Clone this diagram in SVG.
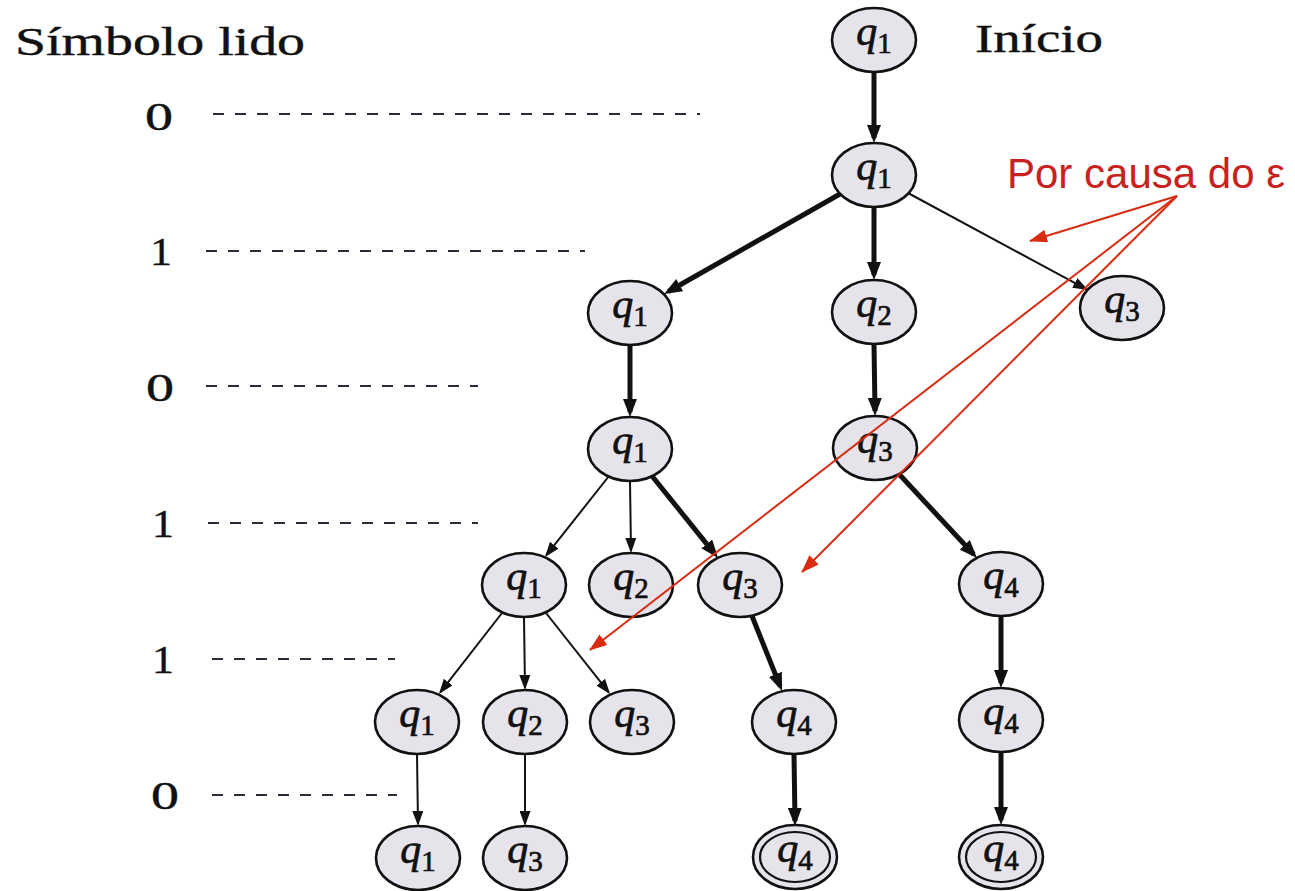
<svg xmlns="http://www.w3.org/2000/svg" width="1295" height="891" viewBox="0 0 1295 891">
<style>
.bg{fill:#ffffff}
.node{fill:#e6e4ea;stroke:#111;stroke-width:2.6}
.inner{fill:none;stroke:#111;stroke-width:2.2}
.ql{font-family:"Liberation Serif","DejaVu Serif",serif;font-size:42px;font-style:italic;fill:#111;stroke:#111;stroke-width:0.7}
.sub{font-size:29px;font-style:normal}
.thick{stroke:#111;stroke-width:5;fill:none;marker-end:url(#ah)}
.thin{stroke:#111;stroke-width:2;fill:none;marker-end:url(#at)}
.red{stroke:#d92b10;stroke-width:2;fill:none;marker-end:url(#ar)}
.dash{stroke:#2b2b3b;stroke-width:2.2;stroke-dasharray:11 11}
.serif{font-family:"Liberation Serif","DejaVu Serif",serif;font-size:39px;fill:#111;stroke:#111;stroke-width:0.4}
.note{font-family:"Liberation Sans",Arial,sans-serif;font-size:42px;fill:#c9211e}
</style>
<defs>
<marker id="ah" markerUnits="userSpaceOnUse" markerWidth="18" markerHeight="14" refX="13" refY="7" orient="auto"><path d="M0,0 L18,7 L0,14 z" fill="#111"/></marker>
<marker id="at" markerUnits="userSpaceOnUse" markerWidth="15" markerHeight="11" refX="13" refY="5.5" orient="auto"><path d="M0,0 L15,5.5 L0,11 z" fill="#111"/></marker>
<marker id="ar" markerUnits="userSpaceOnUse" markerWidth="18" markerHeight="13" refX="17" refY="6.5" orient="auto"><path d="M0,0 L18,6.5 L0,13 z" fill="#d92b10"/></marker>
</defs>
<rect class="bg" x="0" y="0" width="1295" height="891"/>

<g id="legend">
<text class="serif" x="15" y="55" textLength="290" lengthAdjust="spacingAndGlyphs">Símbolo lido</text>
<text class="serif" x="145" y="130" textLength="28" lengthAdjust="spacingAndGlyphs">0</text>
<line class="dash" x1="213" y1="114" x2="700" y2="114"/>
<text class="serif" x="150" y="265" textLength="22" lengthAdjust="spacingAndGlyphs">1</text>
<line class="dash" x1="206" y1="251" x2="585" y2="251"/>
<text class="serif" x="146" y="401" textLength="28" lengthAdjust="spacingAndGlyphs">0</text>
<line class="dash" x1="206" y1="386" x2="478" y2="386"/>
<text class="serif" x="152" y="537" textLength="22" lengthAdjust="spacingAndGlyphs">1</text>
<line class="dash" x1="208" y1="523" x2="478" y2="523"/>
<text class="serif" x="152" y="673" textLength="22" lengthAdjust="spacingAndGlyphs">1</text>
<line class="dash" x1="212" y1="659" x2="395" y2="659"/>
<text class="serif" x="151" y="809" textLength="28" lengthAdjust="spacingAndGlyphs">0</text>
<line class="dash" x1="212" y1="795" x2="397" y2="795"/>
<text class="serif" x="975" y="52" textLength="128" lengthAdjust="spacingAndGlyphs">Início</text>
</g>

<g id="connectors">
<line class="thick" x1="874" y1="72" x2="874" y2="138"/>
<line class="thick" x1="840" y1="194" x2="668.4" y2="291.5"/>
<line class="thick" x1="874" y1="207" x2="874" y2="275"/>
<line class="thin" x1="908" y1="193" x2="1086.2" y2="289.1"/>
<line class="thick" x1="630" y1="345" x2="630" y2="412"/>
<line class="thick" x1="874" y1="344" x2="875" y2="411"/>
<line class="thin" x1="609" y1="476" x2="546.2" y2="555.4"/>
<line class="thin" x1="630" y1="481" x2="631" y2="551"/>
<line class="thick" x1="652" y1="476" x2="714.9" y2="554.1"/>
<line class="thick" x1="899" y1="474" x2="973.6" y2="554.3"/>
<line class="thin" x1="502" y1="613" x2="440.2" y2="692.4"/>
<line class="thin" x1="524" y1="617" x2="525" y2="688"/>
<line class="thin" x1="546" y1="613" x2="608.8" y2="692.4"/>
<line class="thick" x1="752" y1="616" x2="780.2" y2="686.4"/>
<line class="thick" x1="1001" y1="616" x2="1001" y2="683"/>
<line class="thin" x1="417" y1="754" x2="418" y2="824"/>
<line class="thin" x1="525" y1="754" x2="525" y2="824"/>
<line class="thick" x1="794" y1="754" x2="795" y2="821"/>
<line class="thick" x1="1001" y1="752" x2="1001" y2="820"/>
</g>

<g id="n-a"><ellipse class="node" cx="874" cy="40" rx="42" ry="32"/><text class="ql" x="874" y="45" text-anchor="middle">q<tspan class="sub" dy="8">1</tspan></text></g>
<g id="n-b"><ellipse class="node" cx="874" cy="175" rx="42" ry="32"/><text class="ql" x="874" y="180" text-anchor="middle">q<tspan class="sub" dy="8">1</tspan></text></g>
<g id="n-c"><ellipse class="node" cx="630" cy="313" rx="42" ry="32"/><text class="ql" x="630" y="318" text-anchor="middle">q<tspan class="sub" dy="8">1</tspan></text></g>
<g id="n-d"><ellipse class="node" cx="874" cy="312" rx="42" ry="32"/><text class="ql" x="874" y="317" text-anchor="middle">q<tspan class="sub" dy="8">2</tspan></text></g>
<g id="n-e"><ellipse class="node" cx="1122" cy="308" rx="42" ry="32"/><text class="ql" x="1122" y="313" text-anchor="middle">q<tspan class="sub" dy="8">3</tspan></text></g>
<g id="n-f"><ellipse class="node" cx="630" cy="449" rx="42" ry="32"/><text class="ql" x="630" y="454" text-anchor="middle">q<tspan class="sub" dy="8">1</tspan></text></g>
<g id="n-g"><ellipse class="node" cx="875" cy="448" rx="42" ry="32"/><text class="ql" x="875" y="453" text-anchor="middle">q<tspan class="sub" dy="8">3</tspan></text></g>
<g id="n-h"><ellipse class="node" cx="524" cy="585" rx="42" ry="32"/><text class="ql" x="524" y="590" text-anchor="middle">q<tspan class="sub" dy="8">1</tspan></text></g>
<g id="n-i"><ellipse class="node" cx="631" cy="585" rx="42" ry="32"/><text class="ql" x="631" y="590" text-anchor="middle">q<tspan class="sub" dy="8">2</tspan></text></g>
<g id="n-j"><ellipse class="node" cx="740" cy="585" rx="42" ry="32"/><text class="ql" x="740" y="590" text-anchor="middle">q<tspan class="sub" dy="8">3</tspan></text></g>
<g id="n-k"><ellipse class="node" cx="1001" cy="584" rx="42" ry="32"/><text class="ql" x="1001" y="589" text-anchor="middle">q<tspan class="sub" dy="8">4</tspan></text></g>
<g id="n-l"><ellipse class="node" cx="417" cy="722" rx="42" ry="32"/><text class="ql" x="417" y="727" text-anchor="middle">q<tspan class="sub" dy="8">1</tspan></text></g>
<g id="n-m"><ellipse class="node" cx="525" cy="722" rx="42" ry="32"/><text class="ql" x="525" y="727" text-anchor="middle">q<tspan class="sub" dy="8">2</tspan></text></g>
<g id="n-n"><ellipse class="node" cx="632" cy="722" rx="42" ry="32"/><text class="ql" x="632" y="727" text-anchor="middle">q<tspan class="sub" dy="8">3</tspan></text></g>
<g id="n-o"><ellipse class="node" cx="794" cy="722" rx="42" ry="32"/><text class="ql" x="794" y="727" text-anchor="middle">q<tspan class="sub" dy="8">4</tspan></text></g>
<g id="n-p"><ellipse class="node" cx="1001" cy="720" rx="42" ry="32"/><text class="ql" x="1001" y="725" text-anchor="middle">q<tspan class="sub" dy="8">4</tspan></text></g>
<g id="n-q"><ellipse class="node" cx="418" cy="858" rx="42" ry="32"/><text class="ql" x="418" y="863" text-anchor="middle">q<tspan class="sub" dy="8">1</tspan></text></g>
<g id="n-r"><ellipse class="node" cx="525" cy="858" rx="42" ry="32"/><text class="ql" x="525" y="863" text-anchor="middle">q<tspan class="sub" dy="8">3</tspan></text></g>
<g id="n-s"><ellipse class="node" cx="795" cy="857" rx="42" ry="32"/><ellipse class="inner" cx="795" cy="857" rx="35" ry="25"/><text class="ql" x="795" y="862" text-anchor="middle">q<tspan class="sub" dy="8">4</tspan></text></g>
<g id="n-t"><ellipse class="node" cx="1001" cy="857" rx="42" ry="32"/><ellipse class="inner" cx="1001" cy="857" rx="35" ry="25"/><text class="ql" x="1001" y="862" text-anchor="middle">q<tspan class="sub" dy="8">4</tspan></text></g>

<g id="annotation">
<text class="note" x="1007" y="188">Por causa do ε</text>
<line class="red" x1="1177" y1="196" x2="1030" y2="241"/>
<line class="red" x1="1177" y1="196" x2="590" y2="650"/>
<line class="red" x1="1177" y1="196" x2="802" y2="572"/>
</g>
</svg>
